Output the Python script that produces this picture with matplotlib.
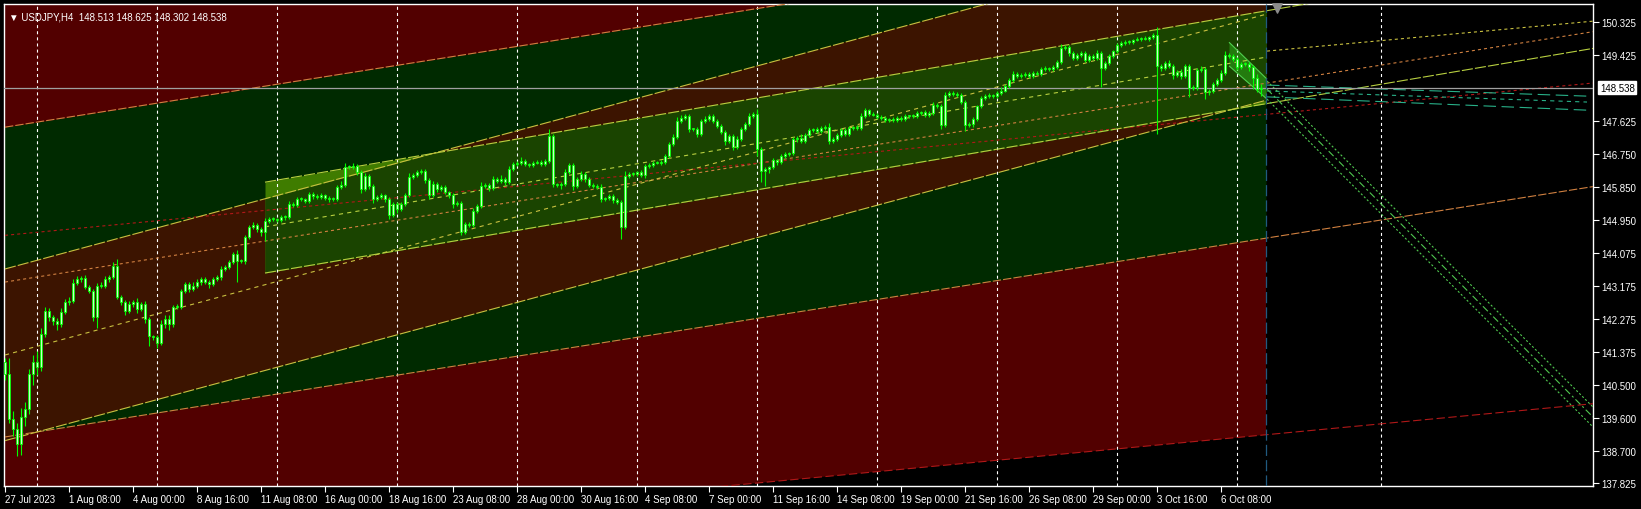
import numpy as np
import matplotlib.pyplot as plt

plt.rcParams['lines.scale_dashes'] = False
plt.rcParams['font.family'] = ['Liberation Sans', 'DejaVu Sans']

# ---------------- data ----------------
header = "USDJPY,H4  148.513 148.625 148.302 148.538"
first_open = 141.11

closes = [
    140.78, 139.57, 139.30, 138.89, 139.62, 139.84, 140.78, 141.11, 140.97, 141.87, 142.49, 142.33, 142.22, 142.14, 142.47,
    142.73, 142.76, 143.25, 143.36, 143.39, 143.14, 143.03, 142.33, 143.17, 143.17, 143.36, 143.41, 143.71, 142.87, 142.73,
    142.49, 142.68, 142.73, 142.55, 142.68, 142.27, 141.81, 141.79, 141.62, 142.14, 142.27, 142.14, 142.60, 142.60, 143.03,
    143.22, 143.09, 143.17, 143.28, 143.36, 143.28, 143.22, 143.36, 143.41, 143.63, 143.69, 143.82, 144.04, 143.85, 143.85,
    144.50, 144.77, 144.82, 144.71, 144.63, 144.93, 144.98, 144.98, 144.96, 145.04, 145.04, 145.39, 145.36, 145.52, 145.52,
    145.47, 145.66, 145.61, 145.58, 145.63, 145.55, 145.52, 145.52, 145.85, 145.90, 146.39, 146.39, 146.42, 146.25, 145.80,
    146.15, 145.88, 145.52, 145.58, 145.63, 145.52, 145.09, 145.39, 145.25, 145.39, 145.63, 146.12, 146.17, 146.25, 146.28,
    146.04, 145.63, 145.93, 145.80, 145.85, 145.71, 145.63, 145.39, 145.42, 144.63, 144.85, 144.82, 145.20, 145.33, 145.88,
    145.90, 145.82, 146.07, 146.01, 146.07, 145.99, 146.34, 146.47, 146.50, 146.55, 146.47, 146.45, 146.50, 146.53, 146.47,
    146.55, 147.23, 145.93, 145.90, 145.93, 146.25, 146.45, 145.88, 146.07, 146.20, 146.07, 145.90, 145.88, 145.85, 145.52,
    145.55, 145.61, 145.50, 145.44, 144.77, 146.15, 146.20, 146.20, 146.25, 146.17, 146.42, 146.45, 146.50, 146.50, 146.53,
    146.69, 147.01, 147.20, 147.64, 147.72, 147.77, 147.42, 147.42, 147.29, 147.64, 147.69, 147.77, 147.64, 147.50, 147.34,
    147.09, 147.23, 146.93, 147.15, 147.42, 147.55, 147.77, 147.83, 146.88, 146.28, 146.34, 146.39, 146.58, 146.53, 146.69,
    146.74, 146.77, 147.15, 147.18, 147.09, 147.26, 147.39, 147.42, 147.37, 147.45, 147.47, 147.09, 147.15, 147.26, 147.39,
    147.29, 147.45, 147.47, 147.45, 147.77, 147.93, 147.83, 147.80, 147.75, 147.72, 147.66, 147.69, 147.66, 147.72, 147.69,
    147.77, 147.77, 147.77, 147.85, 147.88, 147.80, 147.85, 148.07, 148.04, 147.53, 148.34, 148.39, 148.37, 148.34, 148.15,
    147.53, 147.55, 147.69, 148.04, 148.26, 148.31, 148.34, 148.31, 148.39, 148.45, 148.58, 148.75, 148.91, 148.86, 148.88,
    148.91, 148.86, 148.94, 148.91, 149.04, 149.07, 149.04, 149.10, 149.23, 149.61, 149.64, 149.48, 149.34, 149.42, 149.48,
    149.29, 149.40, 149.34, 149.48, 149.07, 149.21, 149.40, 149.53, 149.69, 149.75, 149.78, 149.78, 149.83, 149.86, 149.88,
    149.86, 149.91, 149.97, 149.13, 149.07, 149.21, 149.13, 148.88, 148.96, 148.86, 149.13, 148.53, 148.56, 149.02, 149.04,
    148.42, 148.45, 148.64, 148.75, 148.94, 149.42, 149.40, 149.32, 149.10, 149.18, 149.18, 149.10, 148.80, 148.513, 148.538,
]

upper_wick = [
    0.10, 0.45, 0.20, 0.15, 0.25, 0.20, 0.15, 0.20, 0.30, 0.15, 0.10, 0.08, 0.06, 0.08, 0.10,
    0.08, 0.10, 0.12, 0.08, 0.06, 0.08, 0.05, 0.06, 0.08, 0.10, 0.08, 0.06, 0.12, 0.19, 0.05,
    0.06, 0.08, 0.05, 0.10, 0.06, 0.08, 0.05, 0.04, 0.06, 0.10, 0.12, 0.10, 0.06, 0.08, 0.06,
    0.06, 0.05, 0.10, 0.08, 0.06, 0.05, 0.04, 0.06, 0.05, 0.08, 0.06, 0.05, 0.06, 0.10, 0.04,
    0.05, 0.06, 0.08, 0.06, 0.05, 0.08, 0.05, 0.06, 0.04, 0.05, 0.06, 0.08, 0.05, 0.06, 0.05,
    0.04, 0.06, 0.05, 0.06, 0.05, 0.04, 0.06, 0.05, 0.06, 0.12, 0.10, 0.06, 0.08, 0.05, 0.06,
    0.08, 0.06, 0.05, 0.04, 0.05, 0.04, 0.06, 0.05, 0.04, 0.06, 0.05, 0.10, 0.06, 0.05, 0.06,
    0.05, 0.06, 0.08, 0.05, 0.04, 0.05, 0.04, 0.05, 0.06, 0.05, 0.06, 0.04, 0.08, 0.06, 0.10,
    0.05, 0.06, 0.08, 0.05, 0.10, 0.06, 0.08, 0.06, 0.05, 0.12, 0.05, 0.04, 0.05, 0.06, 0.04,
    0.05, 0.19, 0.05, 0.04, 0.05, 0.10, 0.06, 0.05, 0.06, 0.08, 0.05, 0.04, 0.06, 0.05, 0.08,
    0.04, 0.05, 0.06, 0.04, 0.05, 0.13, 0.06, 0.05, 0.04, 0.06, 0.05, 0.06, 0.04, 0.05, 0.06,
    0.05, 0.06, 0.08, 0.10, 0.08, 0.06, 0.05, 0.04, 0.05, 0.06, 0.08, 0.06, 0.05, 0.06, 0.05,
    0.05, 0.06, 0.05, 0.08, 0.05, 0.06, 0.08, 0.06, 0.12, 0.05, 0.06, 0.04, 0.05, 0.04, 0.06,
    0.05, 0.04, 0.06, 0.05, 0.10, 0.05, 0.06, 0.04, 0.05, 0.06, 0.05, 0.12, 0.05, 0.06, 0.05,
    0.06, 0.05, 0.04, 0.05, 0.08, 0.06, 0.04, 0.05, 0.06, 0.04, 0.05, 0.04, 0.06, 0.05, 0.04,
    0.05, 0.04, 0.06, 0.05, 0.04, 0.06, 0.05, 0.08, 0.06, 0.05, 0.08, 0.06, 0.05, 0.04, 0.05,
    0.05, 0.06, 0.05, 0.04, 0.05, 0.06, 0.05, 0.04, 0.06, 0.12, 0.05, 0.06, 0.08, 0.05, 0.06,
    0.05, 0.04, 0.06, 0.05, 0.06, 0.05, 0.04, 0.06, 0.05, 0.11, 0.05, 0.06, 0.05, 0.06, 0.04,
    0.05, 0.06, 0.05, 0.08, 0.05, 0.06, 0.05, 0.04, 0.06, 0.05, 0.04, 0.05, 0.04, 0.05, 0.04,
    0.05, 0.04, 0.05, 0.21, 0.06, 0.05, 0.08, 0.06, 0.05, 0.08, 0.06, 0.05, 0.04, 0.06, 0.08,
    0.06, 0.05, 0.06, 0.05, 0.08, 0.10, 0.06, 0.05, 0.06, 0.05, 0.06, 0.05, 0.04, 0.10, 0.087,
]

lower_wick = [
    0.15, 0.10, 0.20, 0.33, 0.30, 0.25, 0.15, 0.30, 0.20, 0.10, 0.08, 0.12, 0.10, 0.15, 0.08,
    0.06, 0.08, 0.05, 0.06, 0.08, 0.05, 0.06, 0.10, 0.30, 0.06, 0.05, 0.08, 0.06, 0.05, 0.08,
    0.10, 0.06, 0.08, 0.12, 0.06, 0.10, 0.27, 0.08, 0.12, 0.06, 0.10, 0.15, 0.08, 0.06, 0.05,
    0.06, 0.08, 0.06, 0.05, 0.08, 0.06, 0.10, 0.05, 0.06, 0.08, 0.05, 0.06, 0.05, 0.57, 0.06,
    0.08, 0.06, 0.05, 0.08, 0.10, 0.24, 0.06, 0.05, 0.06, 0.05, 0.08, 0.06, 0.05, 0.06, 0.05,
    0.06, 0.05, 0.08, 0.06, 0.05, 0.06, 0.08, 0.05, 0.06, 0.05, 0.06, 0.05, 0.06, 0.08, 0.12,
    0.06, 0.08, 0.10, 0.05, 0.06, 0.08, 0.12, 0.06, 0.10, 0.05, 0.06, 0.05, 0.06, 0.05, 0.06,
    0.08, 0.10, 0.06, 0.08, 0.05, 0.06, 0.08, 0.10, 0.06, 0.08, 0.06, 0.05, 0.06, 0.05, 0.06,
    0.06, 0.08, 0.05, 0.06, 0.05, 0.08, 0.06, 0.05, 0.04, 0.06, 0.05, 0.06, 0.05, 0.04, 0.05,
    0.06, 0.05, 0.08, 0.06, 0.10, 0.05, 0.06, 0.10, 0.06, 0.05, 0.08, 0.06, 0.05, 0.06, 0.08,
    0.06, 0.05, 0.08, 0.06, 0.33, 0.05, 0.06, 0.05, 0.06, 0.05, 0.08, 0.06, 0.05, 0.04, 0.05,
    0.06, 0.05, 0.06, 0.05, 0.06, 0.05, 0.08, 0.06, 0.10, 0.05, 0.06, 0.05, 0.06, 0.05, 0.06,
    0.10, 0.06, 0.08, 0.06, 0.05, 0.06, 0.05, 0.06, 0.20, 0.29, 0.40, 0.10, 0.06, 0.08, 0.05,
    0.06, 0.05, 0.06, 0.08, 0.06, 0.05, 0.06, 0.05, 0.06, 0.05, 0.06, 0.08, 0.06, 0.05, 0.06,
    0.05, 0.06, 0.05, 0.06, 0.05, 0.06, 0.05, 0.04, 0.06, 0.05, 0.06, 0.05, 0.04, 0.05, 0.06,
    0.05, 0.06, 0.05, 0.04, 0.05, 0.06, 0.05, 0.06, 0.05, 0.10, 0.06, 0.05, 0.06, 0.05, 0.06,
    0.16, 0.06, 0.08, 0.05, 0.06, 0.05, 0.06, 0.05, 0.06, 0.05, 0.04, 0.05, 0.06, 0.05, 0.06,
    0.05, 0.06, 0.05, 0.04, 0.05, 0.06, 0.05, 0.06, 0.05, 0.06, 0.05, 0.08, 0.06, 0.05, 0.06,
    0.06, 0.05, 0.06, 0.05, 0.51, 0.06, 0.05, 0.06, 0.05, 0.04, 0.05, 0.06, 0.05, 0.04, 0.05,
    0.04, 0.05, 0.04, 1.85, 0.08, 0.06, 0.05, 0.10, 0.06, 0.08, 0.06, 0.24, 0.06, 0.08, 0.05,
    0.20, 0.08, 0.06, 0.05, 0.06, 0.05, 0.06, 0.05, 0.08, 0.06, 0.05, 0.10, 0.30, 0.08, 0.211,
]

date_labels = ["27 Jul 2023", "1 Aug 08:00", "4 Aug 00:00", "8 Aug 16:00", "11 Aug 08:00",
               "16 Aug 00:00", "18 Aug 16:00", "23 Aug 08:00", "28 Aug 00:00", "30 Aug 16:00",
               "4 Sep 08:00", "7 Sep 00:00", "11 Sep 16:00", "14 Sep 08:00", "19 Sep 00:00",
               "21 Sep 16:00", "26 Sep 08:00", "29 Sep 00:00", "3 Oct 16:00", "6 Oct 08:00"]
bars_per_label = 16
grid_bars = [8, 38, 68, 98, 128, 158, 188, 218, 248, 278, 308, 344]

price_ticks = [150.325, 149.425, 147.625, 146.750, 145.850, 144.950, 144.075,
               143.175, 142.275, 141.375, 140.500, 139.600, 138.700, 137.825]
last_price = 148.538
last_bar = 315.25

# channel lines: (start bar, start price, end bar, end price)
big_upper = (0, 147.47, 397, 154.25)
big_mid = (0, 143.275, 397, 150.055)
big_lower = (0, 139.08, 397, 145.86)
mid_upper = (0, 143.63, 315, 152.84)
mid_center = (0, 141.30, 315, 150.52)
mid_lower = (0, 138.98, 315, 148.19)
red_mid = (0, 144.54, 397, 148.665)
red_lower = (0, 135.90, 397, 139.98)
inner_upper = (65, 145.98, 315, 150.615)
inner_mid = (65, 144.77, 315, 149.36)
inner_lower = (65, 143.52, 315, 148.10)
short_upper = (306, 149.77, 315.5, 148.77)
short_lower = (306, 149.13, 315.5, 148.23)
future_top = (315.5, 149.53, 397, 150.34)
teal_levels = [(315.5, 148.61, 395.5, 148.31), (315.5, 148.45, 395.5, 148.15), (315.5, 148.29, 395.5, 147.93)]
short_rays = [(315.5, 148.72, 397, 139.89), (315.5, 148.50, 397, 139.62), (315.5, 148.23, 397, 139.35)]


def at(line, x):
    b0, p0, b1, p1 = line
    return p0 + (p1 - p0) * (np.asarray(x, dtype=float) - b0) / (b1 - b0)


def draw(line, x0, x1, color, dashes, lw=0.8):
    xx = np.array([x0, x1])
    ax.plot(xx, at(line, xx), color=color, lw=lw, dashes=dashes, zorder=3)


fig = plt.figure(figsize=(16.41, 5.10), dpi=100, facecolor='black')
ax = fig.add_axes([4 / 1641, 23 / 510, 1589 / 1641, 482 / 510], facecolor='black')
ymin, ymax = 137.752, 150.805
ax.set_xlim(-0.25, 397)
ax.set_ylim(ymin, ymax)

# ---- coloured zones ----
xs = np.linspace(-0.25, last_bar, 800)
ax.fill_between(xs, at(red_lower, xs), ymax, color='#520000', lw=0, zorder=0)
ax.fill_between(xs, at(big_lower, xs), at(big_upper, xs), color='#002a00', lw=0, zorder=0)
ax.fill_between(xs, at(mid_lower, xs), at(mid_upper, xs), color='#3c1400', lw=0, zorder=0)

xi = np.linspace(65, last_bar, 600)
ax.fill_between(xi, at(inner_lower, xi), at(inner_upper, xi), color='#3f7c00', lw=0, zorder=0)
lo = np.maximum(at(inner_lower, xi), at(mid_lower, xi))
hi = np.minimum(at(inner_upper, xi), at(mid_upper, xi))
ax.fill_between(xi, lo, hi, where=hi > lo, color='#1a4400', lw=0, zorder=0)

xsh = np.linspace(306, last_bar, 50)
ax.fill_between(xsh, at(short_lower, xsh), at(short_upper, xsh), color='#30c020', alpha=0.45, lw=0, zorder=1)

# ---- grid ----
ax.vlines(grid_bars, ymin, ymax, colors='white', lw=0.8, linestyles=(0, (2.2, 2.2)), zorder=2)

# ---- channel lines ----
orange = '#d08040'
yellow = '#c8c040'
lime_y = '#b8d040'
red = '#b01818'
draw(big_upper, 0, 397, orange, (6, 1.5))
draw(big_mid, 0, 397, orange, (2.2, 2.2))
draw(big_lower, 0, 397, orange, (6, 1.5))
draw(red_mid, 0, 397, red, (2.2, 2.2))
draw(red_lower, 0, 397, red, (6, 2.5))
draw(mid_upper, 0, 315.25, yellow, (8, 1.5))
draw(mid_center, 0, 315.25, yellow, (3, 3))
draw(mid_lower, 0, 315.25, yellow, (8, 1.5))
draw(inner_upper, 65, 397, lime_y, (8, 1.5))
draw(inner_mid, 65, 315.25, lime_y, (3, 3))
draw(inner_lower, 65, 397, lime_y, (8, 1.5))
draw(future_top, 315.5, 397, yellow, (2.2, 2.2))
for ln, d in zip(teal_levels, [(9, 4), (3, 3), (9, 4)]):
    draw(ln, ln[0], ln[2], '#28b088', d)
for ln, d in zip(short_rays, [(1.5, 1.5), (5, 2, 1.5, 2), (1.5, 1.5)]):
    draw(ln, ln[0], ln[2], '#50c850', d)
draw(short_upper, 306, 315.5, '#50d050', (10, 0.01))
draw(short_lower, 306, 315.5, '#50d050', (10, 0.01))

# ---- current price and last bar markers ----
ax.axhline(last_price, color='#a0a0a0', lw=0.9, zorder=3)
ax.axvline(last_bar, color='#205a80', lw=0.9, dashes=(8, 3), zorder=3)
ax.scatter([318], [150.70], marker='v', s=45, color='#8c8c8c', zorder=6, clip_on=False)

# ---- candles ----
c = np.array(closes)
o = np.concatenate([[first_open], c[:-1]])
hi_p = np.maximum(o, c) + np.array(upper_wick)
lo_p = np.minimum(o, c) - np.array(lower_wick)
idx = np.arange(len(c))
ax.vlines(idx, lo_p, hi_p, colors='#00ff00', lw=0.8, zorder=4)
body_h = np.maximum(np.abs(c - o), 0.02)
ax.bar(idx, body_h, bottom=np.minimum(o, c), width=0.62, color='#c8ffc8',
       edgecolor='#00ff00', lw=0.6, zorder=5)

# ---- axes, ticks, labels ----
for s in ax.spines.values():
    s.set_color('white')
    s.set_linewidth(1.0)
ax.yaxis.tick_right()
ax.set_yticks(price_ticks)
ax.set_yticklabels(['%.3f' % p for p in price_ticks])
ax.set_xticks([bars_per_label * k for k in range(len(date_labels))])
ax.set_xticklabels(date_labels)
ax.tick_params(colors='white', labelsize=7, length=4, width=0.8, direction='out', pad=2)
for t in ax.get_xticklabels():
    t.set_ha('left')

ax.annotate('%.3f' % last_price, xy=(1.0, last_price), xycoords=('axes fraction', 'data'),
            xytext=(5, 0), textcoords='offset points', ha='left', va='center',
            fontsize=7, color='black',
            bbox=dict(boxstyle='square,pad=0.15', fc='white', ec='white'), zorder=10,
            annotation_clip=False)

ax.text(0.003, 0.985, '\u25bc ' + header, transform=ax.transAxes, ha='left', va='top',
        fontsize=7, color='white', family=['Liberation Sans', 'DejaVu Sans'], zorder=10)

fig.savefig('out.png', dpi=100, facecolor='black')
